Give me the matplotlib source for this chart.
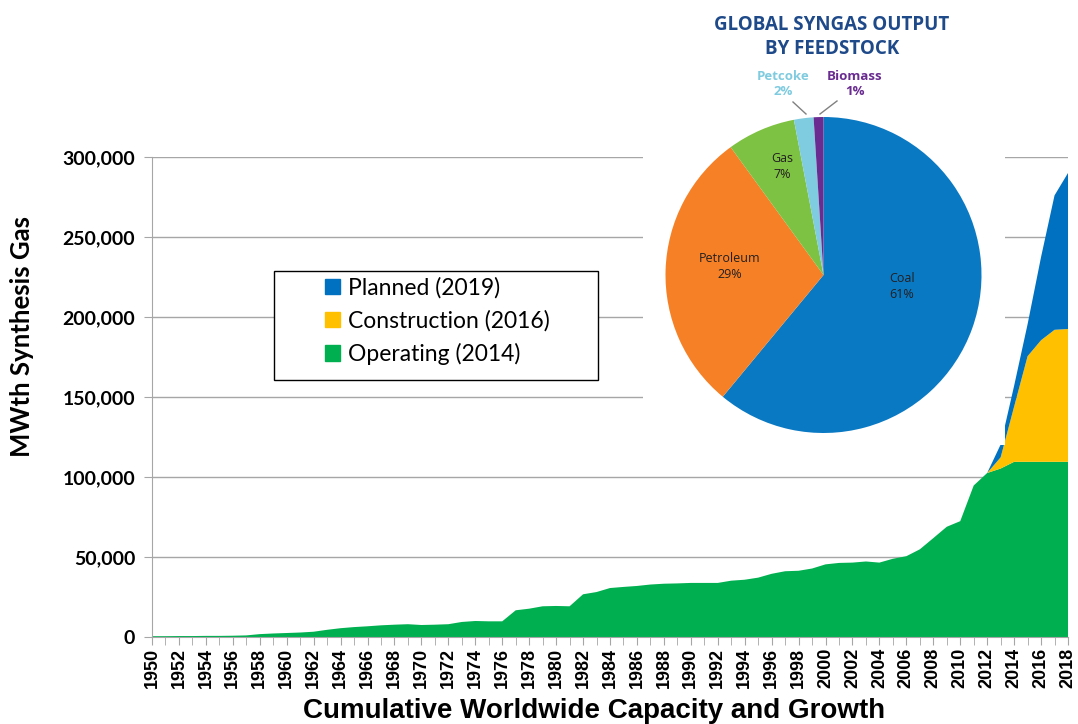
import numpy as np
import matplotlib as mpl
import matplotlib.pyplot as plt
from matplotlib.patches import Patch, Rectangle
from matplotlib.ticker import FuncFormatter, MultipleLocator

years = list(range(1950, 2019))

operating = [500, 500, 600, 600, 700, 700, 800, 1000, 1800, 2200,
             2500, 2800, 3300, 4500, 5500, 6200, 6700, 7300, 7700, 8000,
             7500, 7700, 8000, 9400, 10000, 9800, 9800, 16700, 17700, 19200,
             19400, 19200, 26700, 28100, 30600, 31300, 31900, 32800, 33300, 33500,
             33800, 33800, 33800, 35200, 35800, 37100, 39500, 41100, 41400, 42800,
             45400, 46300, 46500, 47200, 46500, 48900, 50500, 54800, 61800, 68900,
             72400, 94700, 102500, 105300, 109500, 109500, 109500, 109500, 109500]
construction = [0, 0, 0, 0, 0, 0, 0, 0, 0, 0,
                0, 0, 0, 0, 0, 0, 0, 0, 0, 0,
                0, 0, 0, 0, 0, 0, 0, 0, 0, 0,
                0, 0, 0, 0, 0, 0, 0, 0, 0, 0,
                0, 0, 0, 0, 0, 0, 0, 0, 0, 0,
                0, 0, 0, 0, 0, 0, 0, 0, 0, 0,
                0, 0, 0, 7000, 34500, 66000, 76000, 82500, 83000]
planned = [0, 0, 0, 0, 0, 0, 0, 0, 0, 0,
           0, 0, 0, 0, 0, 0, 0, 0, 0, 0,
           0, 0, 0, 0, 0, 0, 0, 0, 0, 0,
           0, 0, 0, 0, 0, 0, 0, 0, 0, 0,
           0, 0, 0, 0, 0, 0, 0, 0, 0, 0,
           0, 0, 0, 0, 0, 0, 0, 0, 0, 0,
           0, 0, 0, 8000, 13000, 20000, 52000, 84000, 97500]

series_labels = ['Operating (2014)', 'Construction (2016)', 'Planned (2019)']
series_colors = ['#00B050', '#FFC000', '#0070C0']

# pie inset
feedstock = ['Coal', 'Petroleum', 'Gas', 'Petcoke', 'Biomass']
shares = [61, 29, 7, 2, 1]
pie_colors = ['#0A79C3', '#F58026', '#7DC242', '#7FCBDF', '#6A2C91']

W, H = 1078, 724
fig = plt.figure(figsize=(W / 100, H / 100), dpi=100)

ax = fig.add_axes([152 / W, 1 - 637 / H, 916 / W, 480 / H])
ax.stackplot(years, operating, construction, planned, colors=series_colors,
             linewidth=0)
ax.set_xlim(1950, 2018)
ax.set_ylim(0, 300000)

ax.yaxis.set_major_locator(MultipleLocator(50000))
ax.yaxis.set_major_formatter(FuncFormatter(lambda v, p: f'{v:,.0f}'))
ax.xaxis.set_major_locator(MultipleLocator(2))
ax.xaxis.set_minor_locator(MultipleLocator(1))
ax.grid(axis='y', color='#A6A6A6', linewidth=1)
ax.set_axisbelow(True)
for s in ['top', 'right']:
    ax.spines[s].set_visible(False)
for s in ['left', 'bottom']:
    ax.spines[s].set_color('#A6A6A6')
ax.tick_params(axis='both', which='both', color='#A6A6A6', direction='out')
ax.tick_params(axis='x', which='major', length=6, labelrotation=90, pad=2)
ax.tick_params(axis='x', which='minor', length=6)
ax.tick_params(axis='y', length=6, pad=6)
for t in ax.get_xticklabels():
    t.set_fontfamily('Liberation Sans')
    t.set_fontweight('bold')
    t.set_fontsize(13)
for t in ax.get_yticklabels():
    t.set_fontfamily('Lato')
    t.set_fontweight('bold')
    t.set_fontsize(14)

ax.set_xlabel('Cumulative Worldwide Capacity and Growth', family='Liberation Sans',
              fontweight='bold', fontsize=20)
ax.xaxis.set_label_coords(0.4826, -0.128)
ax.set_ylabel('MWth Synthesis Gas', family='Lato', fontweight='bold', fontsize=18.5)
ax.yaxis.set_label_coords(-0.142, 0.627)
ax.yaxis.label.set_va('center')

# legend: white framed box with wide padding
fig.add_artist(Rectangle((274 / W, 1 - 380 / H), 324 / W, 109 / H,
                         transform=fig.transFigure, facecolor='white',
                         edgecolor='black', linewidth=1, zorder=1))
handles = [Patch(color=c) for c in series_colors[::-1]]
fig.legend(handles, series_labels[::-1], loc='upper left',
           bbox_to_anchor=(325 / W, 1 - 277 / H), bbox_transform=fig.transFigure,
           prop={'family': 'Lato', 'size': 16.5}, frameon=False,
           handlelength=0.65, handleheight=0.65, handletextpad=0.35,
           borderpad=0, labelspacing=0.5, borderaxespad=0)

# white box holding the pie, in pixel coordinates
bx0, bx1, by0, by1 = 643, 1005, H - 445, H
pax = fig.add_axes([bx0 / W, by0 / H, (bx1 - bx0) / W, (by1 - by0) / H])
pax.set_zorder(5)
pax.set_facecolor('white')
cx, cy, r = 823.5, H - 275, 158
wedges, _ = pax.pie(shares, colors=pie_colors, startangle=90, counterclock=False,
                    center=(cx, cy), radius=r, wedgeprops={'linewidth': 0})
pax.set_aspect('auto')
pax.set_xlim(bx0, bx1)
pax.set_ylim(by0, by1)
pax.set_axis_off()
pax.add_artist(Rectangle((bx0, by0), bx1 - bx0, by1 - by0, color='white', zorder=0))

title_c = '#1F4A8A'
pax.text(832, H - 25, 'GLOBAL SYNGAS OUTPUT', ha='center', va='center',
         family='Open Sans', fontweight='bold', fontsize=13.5, color=title_c)
pax.text(832, H - 49, 'BY FEEDSTOCK', ha='center', va='center',
         family='Open Sans', fontweight='bold', fontsize=13.5, color=title_c)

inner = {'Coal': (902, 286), 'Petroleum': (730, 266), 'Gas': (782, 166)}
for name, val in zip(feedstock, shares):
    if name in inner:
        x, y = inner[name]
        pax.text(x, H - y, f'{name}\n{val}%', ha='center', va='center',
                 family='Open Sans', fontsize=9, color='#231F20', linespacing=1.3)

pax.text(783, H - 84, f'{feedstock[3]}\n{shares[3]}%', ha='center', va='center',
         family='Open Sans', fontweight='bold', fontsize=9.5, color=pie_colors[3],
         linespacing=1.25)
pax.text(855, H - 84, f'{feedstock[4]}\n{shares[4]}%', ha='center', va='center',
         family='Open Sans', fontweight='bold', fontsize=9.5, color=pie_colors[4],
         linespacing=1.25)
pax.plot([793, 806], [H - 102, H - 114], color='#808080', linewidth=1)
pax.plot([837, 820], [H - 101, H - 114], color='#808080', linewidth=1)

fig.savefig('out.png', dpi=100)
